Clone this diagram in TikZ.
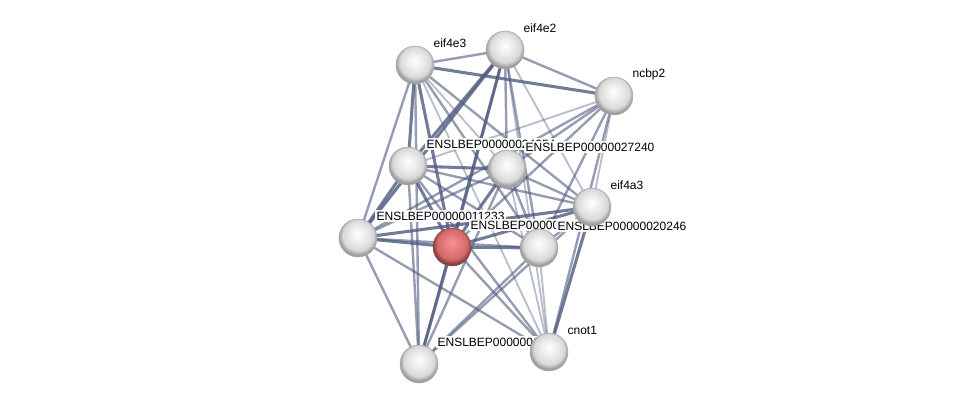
\documentclass[tikz,border=0pt]{standalone}
\usepackage{fontspec}
\setmainfont{Liberation Sans}
\usepackage{tikz}
\definecolor{linkcol}{HTML}{4F5B80}
\pgfdeclareradialshading{protball}{\pgfpoint{0bp}{6bp}}{color(0bp)=(white); color(10bp)=(white!93!black); color(20bp)=(white!85!black); color(25bp)=(white!62!black); color(50bp)=(white!50!black)}
\pgfdeclareradialshading{queryball}{\pgfpoint{0bp}{6bp}}{color(0bp)=(white!55!red); color(10bp)=(red!45!white!90!black); color(20bp)=(red!50!white!82!black); color(25bp)=(red!55!white!55!black); color(50bp)=(red!40!black)}
\tikzset{
  prot/.style={circle, minimum size=28.5pt, inner sep=0pt, shading=protball, draw=gray!65, line width=0.4pt},
  query/.style={prot, shading=queryball, draw=red!40!black!70},
  lbl/.style={anchor=west, inner sep=1pt, fill=white, fill opacity=0.92, text opacity=1, font=\fontsize{9}{10}\selectfont},
  strong/.style={draw=linkcol, line width=2.3pt, opacity=0.8},
  mid/.style={draw=linkcol, line width=1.8pt, opacity=0.6},
  weak/.style={draw=linkcol, line width=1.4pt, opacity=0.4},
}

\begin{document}
\begin{tikzpicture}[x=0.75pt, y=-0.75pt]
  \useasboundingbox (0,0) rectangle (976,409);
  \coordinate (e3) at (415,65);
  \coordinate (e2) at (505,50);
  \coordinate (nc) at (614,96);
  \coordinate (pa) at (408,166);
  \coordinate (pb) at (507,169);
  \coordinate (a3) at (592,207);
  \coordinate (pc) at (358,238);
  \coordinate (q) at (452,247);
  \coordinate (pe) at (539,248);
  \coordinate (pf) at (419,364);
  \coordinate (cn) at (549,352);

  % links
  \draw[mid] (e3) -- (e2);
  \draw[strong] (e3) -- (nc);
  \draw[strong] (e3) -- (pa);
  \draw[mid] (e3) -- (pc);
  \draw[strong] (e3) -- (q);
  \draw[weak] (e3) -- (pb);
  \draw[mid] (e3) -- (pe);
  \draw[mid] (e3) -- (a3);
  \draw[mid] (e3) -- (pf);
  \draw[weak] (e3) -- (cn);
  \draw[mid] (e2) -- (nc);
  \draw[strong] (e2) -- (pa);
  \draw[strong] (e2) -- (pc);
  \draw[mid] (e2) -- (pb);
  \draw[strong] (e2) -- (q);
  \draw[mid] (e2) -- (pe);
  \draw[weak] (e2) -- (a3);
  \draw[weak] (e2) -- (cn);
  \draw[mid] (e2) -- (pf);
  \draw[weak] (nc) -- (pa);
  \draw[mid] (nc) -- (pb);
  \draw[mid] (nc) -- (q);
  \draw[mid] (nc) -- (pe);
  \draw[weak] (nc) -- (a3);
  \draw[mid] (nc) -- (cn);
  \draw[mid] (nc) -- (pc);
  \draw[strong] (pa) -- (pb);
  \draw[strong] (pa) -- (pc);
  \draw[strong] (pa) -- (q);
  \draw[mid] (pa) -- (pe);
  \draw[mid] (pa) -- (a3);
  \draw[mid] (pa) -- (pf);
  \draw[mid] (pa) -- (cn);
  \draw[mid] (pb) -- (pc);
  \draw[strong] (pb) -- (q);
  \draw[mid] (pb) -- (pe);
  \draw[mid] (pb) -- (a3);
  \draw[mid] (pb) -- (pf);
  \draw[weak] (pb) -- (cn);
  \draw[strong] (a3) -- (pc);
  \draw[strong] (a3) -- (q);
  \draw[mid] (a3) -- (pe);
  \draw[strong] (a3) -- (cn);
  \draw[mid] (a3) -- (pf);
  \draw[strong] (pc) -- (q);
  \draw[mid] (pc) -- (pe);
  \draw[mid] (pc) -- (pf);
  \draw[mid] (pc) -- (cn);
  \draw[strong] (q) -- (pe);
  \draw[strong] (q) -- (pf);
  \draw[mid] (q) -- (cn);
  \draw[mid] (pe) -- (pf);
  \draw[weak] (pe) -- (cn);

  % proteins
  \node[prot] (npa) at (pa) {};
  \node[lbl] (lpa) at ([shift={(17,-22)}]pa) {ENSLBEP00000024054};
  \node[prot] (npb) at (pb) {};
  \node[lbl] (lpb) at ([shift={(17,-22)}]pb) {ENSLBEP00000027240};
  \node[prot] (npc) at (pc) {};
  \node[lbl] (lpc) at ([shift={(17,-22)}]pc) {ENSLBEP00000011233};
  \node[query] (nq) at (q) {};
  \node[lbl] (lq) at ([shift={(17,-22)}]q) {ENSLBEP00000015521};
  \node[prot] (npe) at (pe) {};
  \node[lbl] (lpe) at ([shift={(17,-22)}]pe) {ENSLBEP00000020246};
  \node[prot] (na3) at (a3) {};
  \node[lbl] (la3) at ([shift={(17,-22)}]a3) {eif4a3};
  \node[prot] (npf) at (pf) {};
  \node[lbl] (lpf) at ([shift={(17,-22)}]pf) {ENSLBEP0000001663};
  \node[prot] (ncn) at (cn) {};
  \node[lbl] (lcn) at ([shift={(17,-22)}]cn) {cnot1};
  \node[prot] (ne3) at (e3) {};
  \node[lbl] (le3) at ([shift={(17,-22)}]e3) {eif4e3};
  \node[prot] (ne2) at (e2) {};
  \node[lbl] (le2) at ([shift={(17,-22)}]e2) {eif4e2};
  \node[prot] (nnc) at (nc) {};
  \node[lbl] (lnc) at ([shift={(17,-22)}]nc) {ncbp2};
\end{tikzpicture}
\end{document}
